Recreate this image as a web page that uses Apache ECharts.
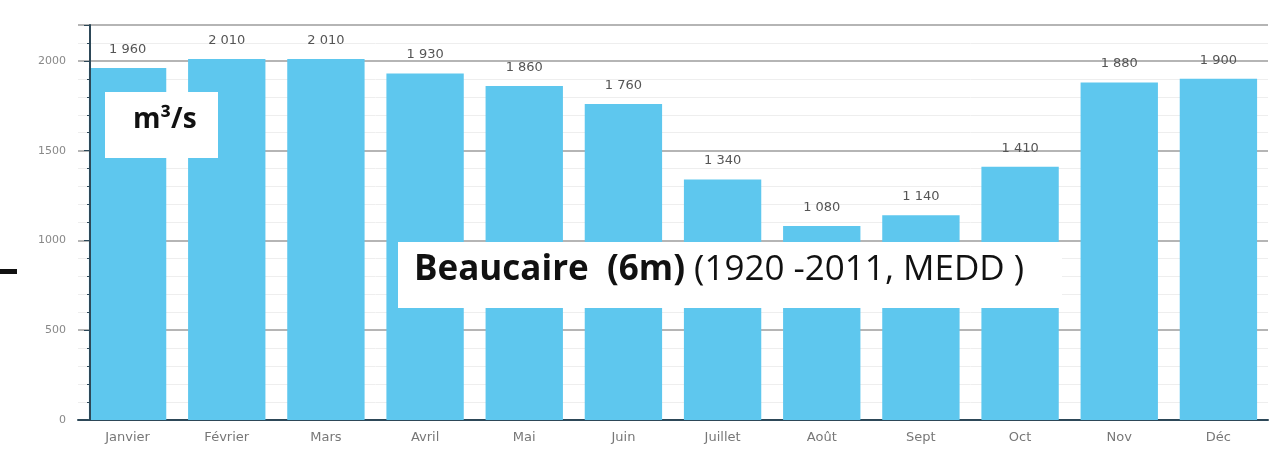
<!DOCTYPE html>
<html><head><meta charset="utf-8">
<script src="https://cdn.jsdelivr.net/npm/echarts@6/dist/echarts.min.js"></script>
<style>html,body{margin:0;padding:0;background:#fff}#c{width:1271px;height:462px}</style>
</head><body><div id="c"></div>
<script>
const months = ["Janvier","Février","Mars","Avril","Mai","Juin","Juillet","Août","Sept","Oct","Nov","Déc"];
const flow = [1960, 2010, 2010, 1930, 1860, 1760, 1340, 1080, 1140, 1410, 1880, 1900];
const unitText = "m³/s";
const titleBold = "Beaucaire  (6m)";
const titleRest = " (1920 -2011, MEDD )";

const chart = echarts.init(document.getElementById('c'));
chart.setOption({
  animation: false,
  backgroundColor: '#fff',
  grid: {left: 78, right: 3, top: 25, bottom: 42, containLabel: false},
  xAxis: {
    type: 'category', data: months,
    axisLine: {lineStyle: {color: '#2d4858', width: 2}},
    axisTick: {show: false},
    axisLabel: {color: '#777', fontSize: 13, fontFamily: 'DejaVu Sans', margin: 11}
  },
  yAxis: [{
    type: 'value', min: 0, max: 2200, interval: 500,
    axisLine: {show: false},
    axisTick: {show: false},
    axisLabel: {color: '#888', fontSize: 11, fontFamily: 'DejaVu Sans', margin: 12,
      formatter: v => (v % 500 === 0 ? String(v) : '')},
    splitLine: {show: true, lineStyle: {color: '#b5b5b5', width: 2}},
    minorSplitLine: {show: true, lineStyle: {color: '#eeeeee'}}
  }, {
    type: 'value', min: 0, max: 2200, interval: 500, position: 'left',
    offset: -12, z: 5,
    axisLine: {show: true, lineStyle: {color: '#2d4858', width: 2}},
    axisTick: {show: true, length: 6, lineStyle: {color: '#2d4858'}},
    minorTick: {show: true, splitNumber: 5, length: 3, lineStyle: {color: '#2d4858'}},
    axisLabel: {show: false},
    splitLine: {show: false}
  }],
  series: [{
    type: 'bar', data: flow, barCategoryGap: '22%', yAxisIndex: 0,
    itemStyle: {color: '#5ec7ee'},
    label: {show: true, position: 'top', distance: 12, color: '#555', fontSize: 13,
      fontFamily: 'DejaVu Sans',
      formatter: p => String(p.value).replace(/\B(?=(\d{3})+(?!\d))/g, ' ')}
  }],
  graphic: [
    {type: 'rect', left: 105, top: 92, shape: {width: 113, height: 66}, style: {fill: '#fff'}, z: 100},
    {type: 'text', left: 133, top: 106, style: {text: unitText, fill: '#111', font: 'bold 28px "Open Sans"'}, z: 101},
    {type: 'rect', left: 398, top: 242, shape: {width: 664, height: 66}, style: {fill: '#fff'}, z: 100},
    {type: 'text', left: 414, top: 253,
      style: {text: '{b|' + titleBold + '}{n|' + titleRest + '}',
        rich: {b: {font: 'bold 35px "Open Sans"', fill: '#111'}, n: {font: '35px "Open Sans"', fill: '#111'}}}, z: 101},
    {type: 'rect', left: 0, top: 269, shape: {width: 17, height: 5}, style: {fill: '#111'}, z: 101}
  ]
});
</script></body></html>
